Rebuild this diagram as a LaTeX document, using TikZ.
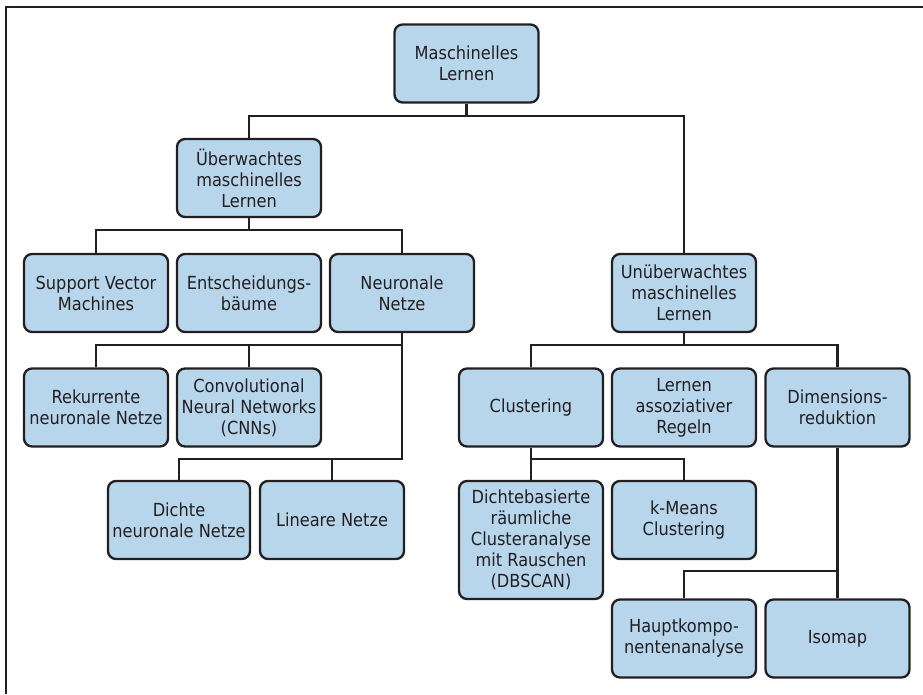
\documentclass[tikz,border=0pt]{standalone}
\usepackage{fontspec}
\setmainfont{DejaVu Sans Condensed}
\definecolor{boxfill}{RGB}{183,214,236}
\definecolor{ink}{RGB}{35,31,32}
\begin{document}
\begin{tikzpicture}[x=1pt,y=-1pt,
  box/.style={draw=ink, line width=2.3pt, fill=boxfill, rounded corners=8pt,
    minimum width=144pt, minimum height=78pt, inner sep=0pt, align=center,
    text=ink, font=\fontsize{18}{21}\selectfont},
  tallbox/.style={box, minimum height=118pt},
  conn/.style={draw=ink, line width=2.1pt}]
\useasboundingbox (0,0) rectangle (923,694);
\draw[conn] (6,694) -- (6,7) -- (923,7);

\node[box] (root) at (466.5,63.5) {Maschinelles\\Lernen};
\node[box] (ueb) at (249,178) {Überwachtes\\maschinelles\\Lernen};
\node[box] (svm) at (96,293) {Support Vector\\Machines};
\node[box] (ent) at (249,293) {Entscheidungs-\\bäume};
\node[box] (nn) at (402,293) {Neuronale\\Netze};
\node[box] (unueb) at (684,293) {Unüberwachtes\\maschinelles\\Lernen};
\node[box] (rek) at (96,407.5) {Rekurrente\\neuronale Netze};
\node[box] (cnn) at (249,407.5) {Convolutional\\Neural Networks\\(CNNs)};
\node[box] (clu) at (531,407.5) {Clustering};
\node[box] (ass) at (684,407.5) {Lernen\\assoziativer\\Regeln};
\node[box] (dim) at (837.5,407.5) {Dimensions-\\reduktion};
\node[box, minimum width=142pt] (dic) at (179,520) {Dichte\\neuronale Netze};
\node[box] (lin) at (332,520) {Lineare Netze};
\node[tallbox] (dbs) at (531,540) {Dichtebasierte\\räumliche\\Clusteranalyse\\mit Rauschen\\(DBSCAN)};
\node[box] (kme) at (684,520) {k-Means\\Clustering};
\node[box] (pca) at (684,638.5) {Hauptkompo-\\nentenanalyse};
\node[box] (iso) at (837.5,638.5) {Isomap};

\coordinate (b0) at (0,116);
\coordinate (b1) at (0,230);
\coordinate (b2) at (0,345);
\coordinate (b3) at (0,459);
\coordinate (b5) at (0,571);

\draw[conn] (root.south) -- (root.south |- b0) -| (ueb.north);
\draw[conn] (root.south |- b0) -| (unueb.north);

\draw[conn] (ueb.south) -- (ueb.south |- b1) -| (svm.north);
\draw[conn] (ueb.south |- b1) -| (nn.north);

\draw[conn] (nn.south) -- (nn.south |- b3) -| (dic.north);
\draw[conn] (nn.south |- b3) -| (lin.north);
\draw[conn] (nn.south |- b2) -| (rek.north);
\draw[conn] (nn.south |- b2) -| (cnn.north);

\draw[conn] (unueb.south) -- (unueb.south |- b2) -| (clu.north);
\draw[conn] (unueb.south |- b2) -| (dim.north);

\draw[conn] (clu.south) -- (clu.south |- b3) -| (kme.north);
\draw[conn] (clu.south |- b3) -- (dbs.north);

\draw[conn] (dim.south) -- (dim.south |- b5) -| (pca.north);
\draw[conn] (dim.south |- b5) -- (iso.north);
\end{tikzpicture}
\end{document}
